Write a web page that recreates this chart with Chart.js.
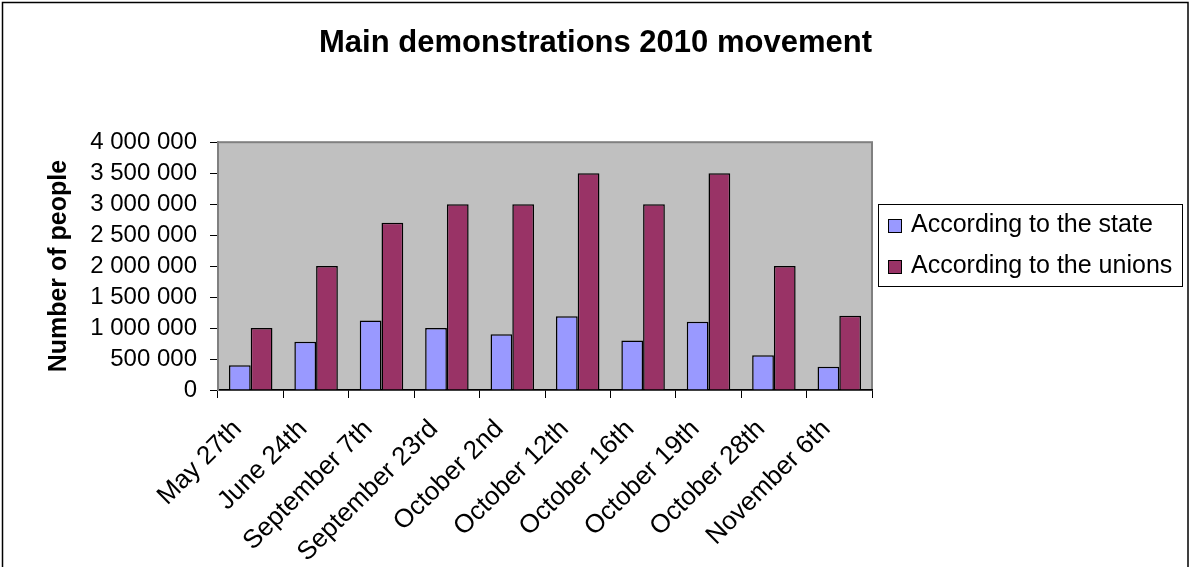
<!DOCTYPE html>
<html>
<head>
<meta charset="utf-8">
<title>Main demonstrations 2010 movement</title>
<script src="https://cdn.jsdelivr.net/npm/chart.js@4.4.1/dist/chart.umd.min.js"></script>
<style>
    html, body { margin: 0; padding: 0; background: #ffffff; }
    canvas { display: block; }
</style>
</head>
<body>
<canvas id="demo-chart" width="1191" height="567"></canvas>
<script>
// Chart data
const dates = ['May 27th', 'June 24th', 'September 7th', 'September 23rd', 'October 2nd',
               'October 12th', 'October 16th', 'October 19th', 'October 28th', 'November 6th'];
const stateCounts = [400000, 780000, 1120000, 1000000, 900000, 1190000, 800000, 1100000, 560000, 375000];
const unionCounts = [1000000, 2000000, 2700000, 3000000, 3000000, 3500000, 3000000, 3500000, 2000000, 1200000];
const seriesNames = ['According to the state', 'According to the unions'];
const yMin = 0;
const yMax = 4000000;
const yStep = 500000;

const FONT = '"Liberation Sans", Arial, sans-serif';

// Formats 1500000 as "1 500 000"
function spaced(value) {
    return String(value).replace(/\B(?=(\d{3})+(?!\d))/g, ' ');
}

// Grey plot area with its border
const plotBackground = {
    id: 'plotBackground',
    beforeDraw(chart) {
        const { ctx, chartArea: a } = chart;
        ctx.save();
        ctx.fillStyle = '#C0C0C0';
        ctx.fillRect(a.left, a.top, a.right - a.left, a.bottom - a.top);
        ctx.strokeStyle = '#808080';
        ctx.lineWidth = 2;
        ctx.strokeRect(a.left, a.top, a.right - a.left, a.bottom - a.top);
        // outer frame of the picture
        ctx.strokeStyle = '#000000';
        ctx.lineWidth = 1.5;
        ctx.strokeRect(2.5, 2.5, 1185.5, 620);
        ctx.restore();
    }
};

// Boxed legend on the right, built from the datasets
const boxLegend = {
    id: 'boxLegend',
    afterDraw(chart) {
        const ctx = chart.ctx;
        ctx.save();
        ctx.strokeStyle = '#000000';
        ctx.lineWidth = 1;
        ctx.strokeRect(878.5, 204.5, 304, 82);
        ctx.font = '25px ' + FONT;
        ctx.textBaseline = 'middle';
        chart.data.datasets.forEach((ds, i) => {
            const y = 225 + i * 41;
            ctx.fillStyle = ds.backgroundColor;
            ctx.fillRect(888, y - 6, 13, 13);
            ctx.strokeStyle = '#000000';
            ctx.lineWidth = 1;
            ctx.strokeRect(888.5, y - 5.5, 13, 13);
            ctx.fillStyle = '#000000';
            ctx.fillText(ds.label, 911, y);
        });
        ctx.restore();
    }
};

document.addEventListener('DOMContentLoaded', function() {
    const ctx = document.getElementById('demo-chart').getContext('2d');

    new Chart(ctx, {
        type: 'bar',
        data: {
            labels: dates,
            datasets: [{
                label: seriesNames[0],
                data: stateCounts,
                backgroundColor: '#9999FF',
                borderColor: '#000000',
                borderWidth: 1.5,
                borderSkipped: 'bottom'
            }, {
                label: seriesNames[1],
                data: unionCounts,
                backgroundColor: '#993366',
                borderColor: '#000000',
                borderWidth: 1.5,
                borderSkipped: 'bottom'
            }]
        },
        options: {
            responsive: false,
            animation: false,
            barPercentage: 1,
            categoryPercentage: 0.665,
            layout: { padding: 0 },
            plugins: {
                legend: { display: false },
                tooltip: { enabled: false },
                title: {
                    display: true,
                    text: 'Main demonstrations 2010 movement',
                    color: '#000000',
                    font: { family: FONT, size: 31, weight: 'bold' },
                    padding: { top: 25, bottom: 80 }
                }
            },
            scales: {
                x: {
                    grid: { display: true, drawOnChartArea: false, drawTicks: true, tickLength: 8, tickColor: '#000000', offset: true },
                    border: { display: true, color: '#000000', width: 1.5 },
                    ticks: {
                        autoSkip: false,
                        maxRotation: 45,
                        minRotation: 45,
                        padding: 16,
                        labelOffset: -13,
                        color: '#000000',
                        font: { family: FONT, size: 26 }
                    },
                    afterFit(scale) { scale.height = 177; }
                },
                y: {
                    min: yMin,
                    max: yMax,
                    grid: { display: true, drawOnChartArea: false, drawTicks: true, tickLength: 8, tickColor: '#000000' },
                    border: { display: true, color: '#808080', width: 2 },
                    ticks: {
                        stepSize: yStep,
                        autoSkip: false,
                        padding: 13,
                        color: '#000000',
                        font: { family: FONT, size: 24 },
                        callback: value => spaced(value)
                    },
                    title: {
                        display: true,
                        text: 'Number of people',
                        color: '#000000',
                        font: { family: FONT, size: 25, weight: 'bold' },
                        padding: { top: 44, bottom: 0 }
                    },
                    afterFit(scale) { scale.width = 218; }
                },
                // empty box on the right that leaves room for the legend
                legendSpace: {
                    type: 'linear',
                    position: 'right',
                    display: true,
                    grid: { display: false },
                    border: { display: false },
                    ticks: { display: false },
                    afterFit(scale) { scale.width = 319; }
                }
            }
        },
        plugins: [plotBackground, boxLegend]
    });
});
</script>
</body>
</html>
